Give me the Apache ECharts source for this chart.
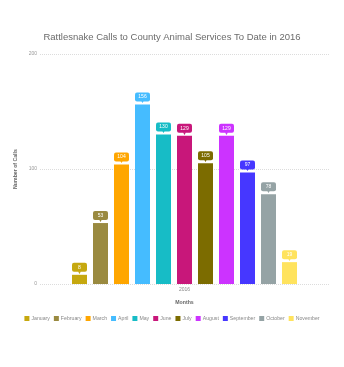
<!DOCTYPE html>
<html>
<head>
<meta charset="utf-8">
<script src="https://cdn.jsdelivr.net/npm/echarts@6/dist/echarts.min.js"></script>
<style>
  html, body { margin: 0; padding: 0; background: #fff; }
  #chart { width: 344px; height: 367px; }
</style>
</head>
<body>
<div id="chart"></div>
<script>
// Monthly rattlesnake call counts, 2016
const months = ['January', 'February', 'March', 'April', 'May', 'June', 'July', 'August', 'September', 'October', 'November'];
const calls = [8, 53, 104, 156, 130, 129, 105, 129, 97, 78, 19];
const monthColors = ['#c6a80f', '#9a8a40', '#ffa600', '#45bcff', '#17bcc6', '#c8177a', '#7c6c00', '#cc33ff', '#4637ff', '#95a3a5', '#ffe35e'];
const yearCategories = ['2016'];
const yTicks = { min: 0, max: 200, interval: 100 };

const FONT = "'Liberation Sans', Arial, sans-serif";

const series = months.map(function (name, i) {
  const c = monthColors[i];
  return {
    name: name,
    type: 'bar',
    data: [calls[i]],
    barWidth: 15,
    barGap: '40%',
    itemStyle: { color: c },
    label: {
      show: true,
      position: 'top',
      distance: 1,
      formatter: '{v|{c}}\n{t|▼}',
      rich: {
        v: {
          backgroundColor: c,
          color: '#fff',
          borderRadius: 2,
          padding: [2, 2, 2, 2],
          width: 11,
          align: 'center',
          fontSize: 5,
          lineHeight: 7,
          fontFamily: FONT
        },
        t: {
          color: c,
          fontSize: 5,
          lineHeight: 3,
          align: 'center',
          fontFamily: FONT
        }
      }
    }
  };
});

const chart = echarts.init(document.getElementById('chart'), null, { renderer: 'canvas' });
chart.setOption({
  animation: false,
  backgroundColor: '#fff',
  textStyle: { fontFamily: FONT },
  title: {
    text: 'Rattlesnake Calls to County Animal Services To Date in 2016',
    left: 'center',
    top: 27,
    textStyle: { fontSize: 9.5, fontWeight: 'normal', color: '#6b6b6b', fontFamily: FONT }
  },
  grid: { left: 40, right: 15, top: 54, bottom: 83 },
  legend: {
    data: months,
    top: 311,
    left: 'center',
    itemWidth: 5,
    itemHeight: 5,
    itemGap: 4,
    icon: 'rect',
    textStyle: { fontSize: 5.2, color: '#888', fontFamily: FONT, padding: [0, 0, 0, -3] }
  },
  xAxis: {
    type: 'category',
    data: yearCategories,
    name: 'Months',
    nameLocation: 'middle',
    nameGap: 16,
    nameTextStyle: { fontSize: 5.2, fontWeight: 'bold', color: '#666' },
    axisLine: { show: false },
    axisTick: { show: false },
    axisLabel: { fontSize: 5, color: '#888', margin: 3 }
  },
  yAxis: {
    type: 'value',
    min: yTicks.min,
    max: yTicks.max,
    interval: yTicks.interval,
    name: 'Number of Calls',
    nameLocation: 'middle',
    nameGap: 11,
    nameTextStyle: { fontSize: 5.2, fontWeight: 'bold', color: '#666' },
    axisLine: { show: false },
    axisTick: { show: false },
    axisLabel: { fontSize: 5, color: '#999', margin: 3 },
    splitLine: { lineStyle: { color: '#dcdcdc', type: [1, 1], width: 1 } }
  },
  series: series
});
</script>
</body>
</html>
